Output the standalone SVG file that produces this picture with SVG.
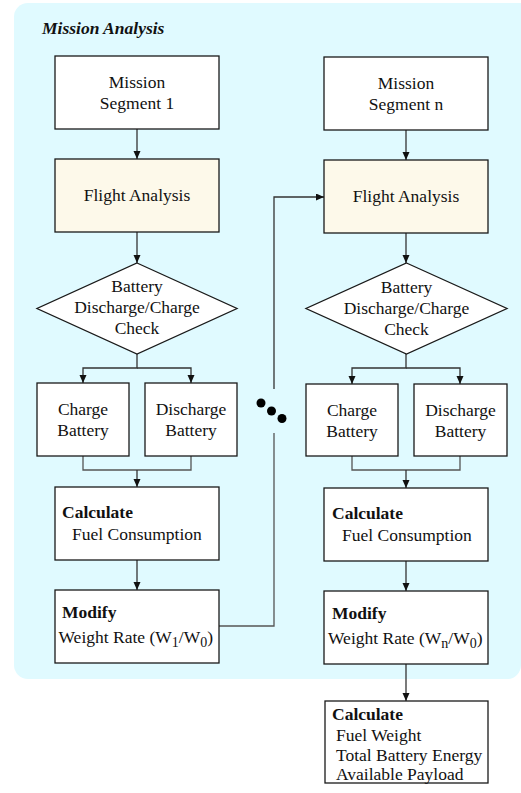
<svg xmlns="http://www.w3.org/2000/svg" width="521" height="793" viewBox="0 0 521 793">
<style>
  text { font-family: "Liberation Serif", "Times New Roman", serif; font-size: 17.5px; fill: #111; }
  .c { text-anchor: middle; }
  .b { font-weight: bold; }
  .title { font-weight: bold; font-style: italic; }
  .sub { font-size: 14px; }
  .box { fill: #ffffff; stroke: #1a1a1a; stroke-width: 1.3; }
  .fa { fill: #FDF9EA; stroke: #1a1a1a; stroke-width: 1.3; }
  .ln { fill: none; stroke: #555; stroke-width: 1.3; }
  .ar { fill: none; stroke: #333; stroke-width: 1.3; marker-end: url(#arr); }
</style>
<defs>
  <marker id="arr" markerWidth="8" markerHeight="8" refX="8" refY="3.5" orient="auto" markerUnits="userSpaceOnUse">
    <path d="M0,0 L8,3.5 L0,7 Z" fill="#111"/>
  </marker>
</defs>
<rect width="521" height="793" fill="#ffffff"/>
<g id="panel">
  <path d="M28,3 H521 V665 A14,14 0 0 1 507,679 H28 A14,14 0 0 1 14,665 V17 A14,14 0 0 1 28,3 Z" fill="#E0FAFF"/>
  <text x="42" y="34" class="title">Mission Analysis</text>
</g>
<g id="connectors">
  <path class="ar" d="M137,129 V159"/>
  <path class="ar" d="M137,232 V263"/>
  <path class="ar" d="M137,354 V368 H83 V383"/>
  <path class="ar" d="M137,368 H191 V383"/>
  <path class="ln" d="M83,456 V470 H191 V456"/>
  <path class="ar" d="M137,470 V487"/>
  <path class="ar" d="M137,560 V590"/>
  <path class="ln" d="M219,626 H274 V433"/>
  <path class="ar" d="M274,389 V197 H324"/>
  <path class="ar" d="M406,130 V160"/>
  <path class="ar" d="M406,233 V263"/>
  <path class="ar" d="M406,354 V368 H352 V384"/>
  <path class="ar" d="M406,368 H460 V384"/>
  <path class="ln" d="M352,456 V470 H460 V456"/>
  <path class="ar" d="M406,470 V488"/>
  <path class="ar" d="M406,561 V591"/>
  <path class="ar" d="M406,664 V701"/>
</g>
<g id="ellipsis">
  <circle cx="261" cy="403" r="4.5" fill="#000"/>
  <circle cx="271.5" cy="411" r="4.5" fill="#000"/>
  <circle cx="282" cy="418.5" r="4.5" fill="#000"/>
</g>
<g id="mission1">
  <rect class="box" x="55" y="56" width="164" height="73"/>
  <text x="137" y="88" class="c">Mission</text>
  <text x="137" y="109" class="c">Segment 1</text>
</g>
<g id="flight1">
  <rect class="fa" x="55" y="159" width="164" height="73"/>
  <text x="137" y="201" class="c">Flight Analysis</text>
</g>
<g id="check1">
  <polygon class="box" points="137,263 237,308.5 137,354 37,308.5"/>
  <text x="137" y="292" class="c">Battery</text>
  <text x="137" y="313" class="c">Discharge/Charge</text>
  <text x="137" y="334" class="c">Check</text>
</g>
<g id="charge1">
  <rect class="box" x="37" y="383" width="92" height="73"/>
  <text x="83" y="415" class="c">Charge</text>
  <text x="83" y="436" class="c">Battery</text>
</g>
<g id="discharge1">
  <rect class="box" x="145" y="383" width="92" height="73"/>
  <text x="191" y="415" class="c">Discharge</text>
  <text x="191" y="436" class="c">Battery</text>
</g>
<g id="fuel1">
  <rect class="box" x="55" y="487" width="164" height="73"/>
  <text x="62" y="518" class="b">Calculate</text>
  <text x="72" y="540">Fuel Consumption</text>
</g>
<g id="modify1">
  <rect class="box" x="55" y="590" width="164" height="73"/>
  <text x="62" y="618" class="b">Modify</text>
  <text x="58.5" y="643">Weight Rate (W<tspan class="sub" dy="3.5">1</tspan><tspan dy="-3.5">/W</tspan><tspan class="sub" dy="3.5">0</tspan><tspan dy="-3.5">)</tspan></text>
</g>
<g id="missionN">
  <rect class="box" x="324" y="57" width="164" height="73"/>
  <text x="406" y="89" class="c">Mission</text>
  <text x="406" y="110" class="c">Segment n</text>
</g>
<g id="flightN">
  <rect class="fa" x="324" y="160" width="164" height="73"/>
  <text x="406" y="202" class="c">Flight Analysis</text>
</g>
<g id="checkN">
  <polygon class="box" points="406.5,263 507,308.5 406.5,354 306,308.5"/>
  <text x="406.5" y="293" class="c">Battery</text>
  <text x="406.5" y="314" class="c">Discharge/Charge</text>
  <text x="406.5" y="335" class="c">Check</text>
</g>
<g id="chargeN">
  <rect class="box" x="306" y="384" width="92" height="72"/>
  <text x="352" y="416" class="c">Charge</text>
  <text x="352" y="437" class="c">Battery</text>
</g>
<g id="dischargeN">
  <rect class="box" x="414" y="384" width="93" height="72"/>
  <text x="460.5" y="416" class="c">Discharge</text>
  <text x="460.5" y="437" class="c">Battery</text>
</g>
<g id="fuelN">
  <rect class="box" x="324" y="488" width="164" height="73"/>
  <text x="332" y="519" class="b">Calculate</text>
  <text x="342" y="541">Fuel Consumption</text>
</g>
<g id="modifyN">
  <rect class="box" x="324" y="591" width="164" height="73"/>
  <text x="332" y="619" class="b">Modify</text>
  <text x="328" y="644">Weight Rate (W<tspan class="sub" dy="3.5">n</tspan><tspan dy="-3.5">/W</tspan><tspan class="sub" dy="3.5">0</tspan><tspan dy="-3.5">)</tspan></text>
</g>
<g id="final">
  <rect class="box" x="325" y="701" width="163" height="82"/>
  <text x="332" y="720" class="b">Calculate</text>
  <text x="336" y="741">Fuel Weight</text>
  <text x="336" y="761">Total Battery Energy</text>
  <text x="336" y="780">Available Payload</text>
</g>
</svg>
